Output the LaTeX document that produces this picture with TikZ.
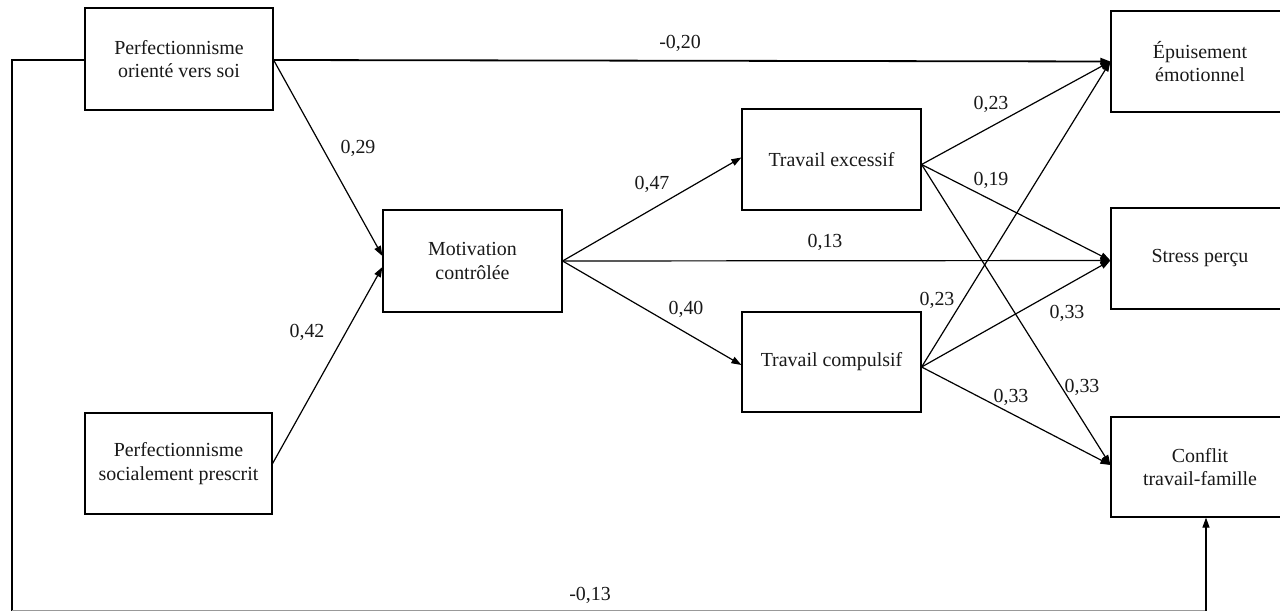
\documentclass[tikz,border=0pt]{standalone}
\usepackage{fontspec}
\setmainfont{Liberation Serif}
\usetikzlibrary{arrows.meta,calc}
\tikzset{
  box/.style={draw=black, line width=1.2bp, rectangle, inner sep=0pt, minimum width=179bp, minimum height=101bp, align=center, text=black!90, font=\fontsize{20}{23.5}\selectfont},
  lbl/.style={inner sep=0pt, text=black!90, font=\fontsize{20}{23.5}\selectfont},
  arr/.style={draw=black, line width=1.2bp, -{Triangle[length=10bp,width=7bp]}},
  ln/.style={draw=black, line width=1.2bp}
}
\begin{document}
\begin{tikzpicture}[x=1bp,y=-1bp]
\clip (0,0) rectangle (1280,612);
\fill[white] (0,0) rectangle (1280,612);
% boxes
\node[box, minimum width=188bp, minimum height=102bp] (POS) at (179,59) {Perfectionnisme\\orienté vers soi};
\node[box, minimum width=187bp] (PSP) at (178.5,463.5) {Perfectionnisme\\socialement prescrit};
\node[box, minimum height=102bp] (MOT) at (472.5,261) {Motivation\\contrôlée};
\node[box] (TE) at (831.5,159.5) {Travail excessif};
\node[box, minimum height=100bp] (TC) at (831.5,362) {Travail compulsif};
\node[box, minimum width=178bp] (EP) at (1200,61.5) {Épuisement\\émotionnel};
\node[box, minimum width=178bp] (ST) at (1200,258.5) {Stress perçu};
\node[box, minimum width=178bp, minimum height=100bp] (CF) at (1200,467) {Conflit\\travail-famille};
% coordinates for the loop
\coordinate (cl) at (12,610.5);
\coordinate (cr) at (1206,610.5);
% connectors
\draw[arr, line width=1.8bp] ([yshift=-1bp]POS.east) -- (EP.west);
\draw[arr] ([yshift=-1bp]POS.east) -- ([yshift=5bp]MOT.west);
\draw[arr] (PSP.east) -- ([yshift=-6bp]MOT.west);
\draw[arr] (MOT.east) -- ([yshift=2bp]TE.west);
\draw[arr] (MOT.east) -- ([yshift=-2bp]ST.west);
\draw[arr] (MOT.east) -- ([yshift=-3bp]TC.west);
\draw[arr] ([yshift=-5bp]TE.east) -- (EP.west);
\draw[arr] ([yshift=-5bp]TE.east) -- ([yshift=-2bp]ST.west);
\draw[arr] ([yshift=-5bp]TE.east) -- ([yshift=2bp]CF.west);
\draw[arr] ([yshift=-5bp]TC.east) -- (EP.west);
\draw[arr] ([yshift=-5bp]TC.east) -- ([yshift=-2bp]ST.west);
\draw[arr] ([yshift=-5bp]TC.east) -- ([yshift=2bp]CF.west);
\draw[ln] ([yshift=-1bp]POS.west) -| (cl);
\draw[draw=black!40, line width=1.2bp] (cl) -- (cr);
\draw[arr] (cr) -- (cr |- CF.south);
% labels
\node[lbl] (l1) at (680,43) {-0,20};
\node[lbl] (l2) at (358,148) {0,29};
\node[lbl] (l3) at (307,332) {0,42};
\node[lbl] (l4) at (652,184) {0,47};
\node[lbl] (l5) at (686,309) {0,40};
\node[lbl] (l6) at (825,242) {0,13};
\node[lbl] (l7) at (991,104) {0,23};
\node[lbl] (l8) at (991,180) {0,19};
\node[lbl] (l9) at (937,300) {0,23};
\node[lbl] (l10) at (1067,313) {0,33};
\node[lbl] (l11) at (1082,387) {0,33};
\node[lbl] (l12) at (1011,397) {0,33};
\node[lbl] (l13) at (590,595) {-0,13};
\end{tikzpicture}
\end{document}
